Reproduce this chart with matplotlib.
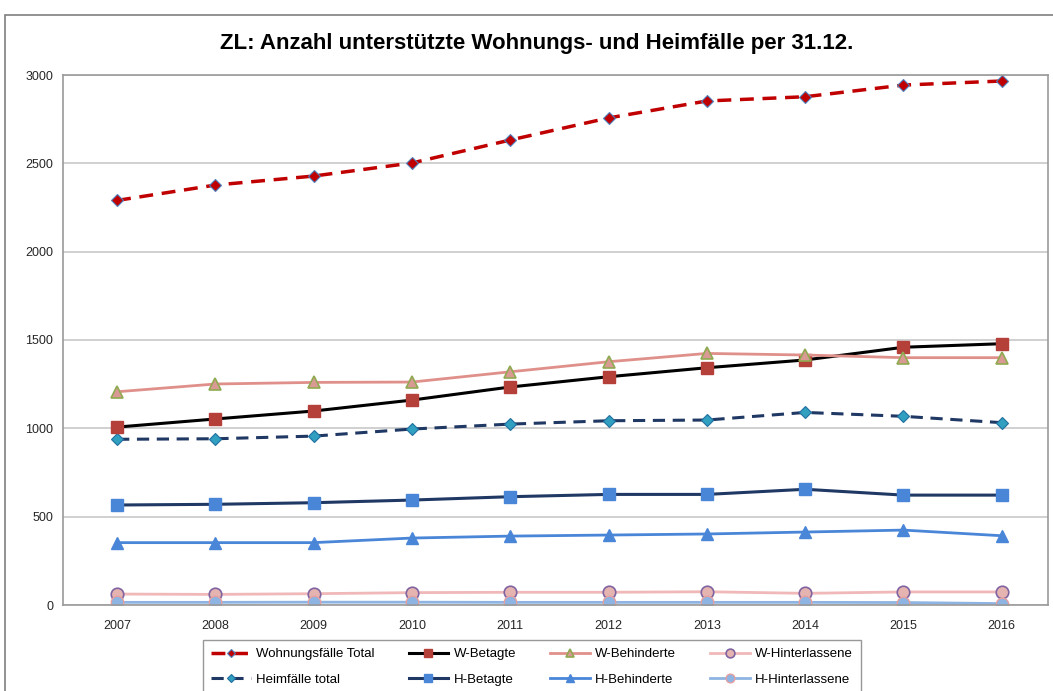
import matplotlib.pyplot as plt
from matplotlib.patches import Rectangle

plt.rcParams['font.family'] = ['Liberation Sans Narrow', 'Liberation Sans', 'DejaVu Sans']

years = ['2007', '2008', '2009', '2010', '2011', '2012', '2013', '2014', '2015', '2016']

wohnung_total = [2290, 2377, 2428, 2502, 2632, 2757, 2853, 2877, 2943, 2966]
w_betagte = [1007, 1053, 1098, 1160, 1234, 1292, 1343, 1387, 1459, 1479]
w_behinderte = [1207, 1251, 1260, 1262, 1320, 1377, 1424, 1415, 1400, 1400]
w_hinterlassene = [62, 60, 64, 70, 72, 72, 75, 66, 74, 74]
heim_total = [938, 941, 956, 996, 1024, 1043, 1047, 1090, 1068, 1032]
h_betagte = [566, 570, 579, 594, 613, 626, 626, 655, 622, 622]
h_behinderte = [353, 353, 353, 379, 390, 396, 402, 413, 424, 392]
h_hinterlassene = [15, 15, 16, 16, 15, 15, 15, 15, 14, 8]

fig = plt.figure(figsize=(10.53, 6.91), dpi=100)
ax = fig.add_axes([63/1053, 1 - 605/691, (1048 - 63)/1053, (605 - 75)/691])

# outer chart frame like the excel export
fig.patches.append(Rectangle((5/1053, -0.1), 1.2, 1 - 15/691 + 0.1, transform=fig.transFigure,
                             fill=False, edgecolor='#7f7f7f', linewidth=1.2))

x = list(range(len(years)))

ax.plot(x, wohnung_total, color='#c00000', linestyle=(0, (4, 2.5)), linewidth=2.5, marker='D',
        markersize=6, markerfacecolor='#c00000', markeredgecolor='#4f81bd', markeredgewidth=0.8,
        label='Wohnungsfälle Total')
ax.plot(x, heim_total, color='#1f3864', linestyle=(0, (4, 2.5)), linewidth=2.2, marker='D',
        markersize=6, markerfacecolor='#31a0c0', markeredgecolor='#1f6fa0', markeredgewidth=0.8,
        label='Heimfälle total')
ax.plot(x, w_betagte, color='black', linewidth=2.2, marker='s', markersize=9,
        markerfacecolor='#b5403a', markeredgecolor='#b5403a', label='W-Betagte')
ax.plot(x, h_betagte, color='#1f3864', linewidth=2.2, marker='s', markersize=9,
        markerfacecolor='#4a86d8', markeredgecolor='#4a86d8', label='H-Betagte')
ax.plot(x, w_behinderte, color='#e0908a', linewidth=2.0, marker='^', markersize=9,
        markerfacecolor='#d99a94', markeredgecolor='#8faa50', markeredgewidth=1.2, label='W-Behinderte')
ax.plot(x, h_behinderte, color='#4a86d8', linewidth=2.0, marker='^', markersize=9,
        markerfacecolor='#4a86d8', markeredgecolor='#4a86d8', label='H-Behinderte')
ax.plot(x, w_hinterlassene, color='#f0b8b8', linewidth=2.0, marker='o', markersize=9,
        markerfacecolor='#e6b4b0', markeredgecolor='#8064a2', markeredgewidth=1.2, label='W-Hinterlassene')
ax.plot(x, h_hinterlassene, color='#8db4e2', linewidth=2.0, marker='o', markersize=9,
        markerfacecolor='#8db4e2', markeredgecolor='#e6a0a0', markeredgewidth=1.0, label='H-Hinterlassene')

ax.set_xlim(-0.55, 9.47)
ax.set_ylim(0, 3000)
ax.set_xticks(x)
ax.set_xticklabels(years)
ax.set_yticks(range(0, 3001, 500))
ax.tick_params(axis='both', length=0, labelsize=9, colors='#262626')
ax.tick_params(axis='y', pad=7)
ax.tick_params(axis='x', pad=11)
ax.yaxis.grid(True, color='#c8c8c8', linewidth=1.2)
ax.set_axisbelow(True)
for s in ax.spines.values():
    s.set_color('#9a9a9a')
    s.set_linewidth(1.2)

fig.text(537/1053, 1 - 44/691, 'ZL: Anzahl unterstützte Wohnungs- und Heimfälle per 31.12.',
         ha='center', va='center', fontsize=16, fontweight='bold')

leg = fig.legend(loc='upper left', bbox_to_anchor=(203/1053, 1 - 640/691), ncol=4,
                 fontsize=9.5, frameon=True, fancybox=False, edgecolor='#7f7f7f',
                 handlelength=3.0, columnspacing=2.6, handletextpad=0.4, borderpad=0.6,
                 labelspacing=1.0, markerscale=0.7, borderaxespad=0)
leg.get_frame().set_linewidth(1.0)

fig.savefig('out.png', dpi=100)
